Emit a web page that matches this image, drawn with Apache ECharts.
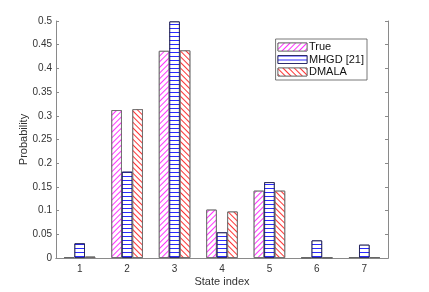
<!DOCTYPE html>
<html>
<head>
<meta charset="utf-8">
<script src="https://cdn.jsdelivr.net/npm/echarts@6/dist/echarts.min.js"></script>
<style>html,body{margin:0;padding:0;background:#fff}#c{width:429px;height:292px}</style>
</head>
<body>
<div id="c"></div>
<script>
const categories = ['1','2','3','4','5','6','7'];
const trueVals  = [0.002, 0.312, 0.437, 0.102, 0.142, 0.001, 0.002];
const mhgdVals  = [0.031, 0.182, 0.499, 0.054, 0.160, 0.037, 0.028];
const dmalaVals = [0.003, 0.314, 0.438, 0.098, 0.142, 0.001, 0.002];
const seriesNames = ['True', 'MHGD [21]', 'DMALA'];
const yTicks = [0, 0.05, 0.1, 0.15, 0.2, 0.25, 0.3, 0.35, 0.4, 0.45, 0.5];

function decal(color, rot, on, off) {
  return { symbol: 'rect', symbolSize: 1, color: color, backgroundColor: '#fff',
           dashArrayX: [1, 0], dashArrayY: [on, off], rotation: rot };
}

const axisColor = '#8a8a8a';
const labelColor = '#333';
const font = 'Liberation Sans';

const chart = echarts.init(document.getElementById('c'), null, { renderer: 'canvas' });
const barCommon = { type: 'bar', barWidth: 10.5, barGap: '0%', animation: false };
chart.setOption({
  backgroundColor: '#fff',
  textStyle: { fontFamily: font },
  grid: { left: 56, right: 41, top: 21, bottom: 32, containLabel: false },
  legend: {
    data: seriesNames,
    orient: 'vertical',
    right: 62, top: 39,
    icon: 'rect',
    itemWidth: 29, itemHeight: 8, itemGap: 1.5,
    padding: [2.5, 3, 2.5, 2],
    borderColor: '#555', borderWidth: 0.8,
    borderRadius: 0,
    backgroundColor: '#fff',
    itemStyle: { borderWidth: 0.8 },
    textStyle: { fontSize: 11, color: '#111', fontFamily: font, padding: [0, 0, 0, -3] }
  },
  xAxis: [{
    type: 'category', data: categories, position: 'bottom',
    name: 'State index', nameLocation: 'middle', nameGap: 18, nameMoveOverlap: false,
    nameTextStyle: { fontSize: 11, color: labelColor, fontFamily: font },
    axisLine: { lineStyle: { color: axisColor, width: 1 } },
    axisTick: { inside: true, length: 3, alignWithLabel: true, lineStyle: { color: axisColor } },
    axisLabel: { fontSize: 10, color: labelColor, margin: 6, fontFamily: font }
  }, {
    type: 'category', data: categories, position: 'top',
    axisLine: { lineStyle: { color: axisColor, width: 1 } },
    axisTick: { inside: true, length: 3, alignWithLabel: true, lineStyle: { color: axisColor } },
    axisLabel: { show: false }
  }],
  yAxis: [{
    type: 'value', min: 0, max: 0.5, interval: 0.05, position: 'left',
    name: 'Probability', nameLocation: 'middle', nameGap: 27, nameMoveOverlap: false,
    nameTextStyle: { fontSize: 11, color: labelColor, fontFamily: font },
    axisLine: { show: true, lineStyle: { color: axisColor, width: 1 } },
    axisTick: { show: true, inside: true, length: 3, lineStyle: { color: axisColor } },
    splitLine: { show: false },
    axisLabel: { fontSize: 10, color: labelColor, margin: 4, fontFamily: font,
      formatter: v => { const t = yTicks.find(x => Math.abs(x - v) < 1e-9); return String(+(t !== undefined ? t : v).toFixed(2)); } }
  }, {
    type: 'value', min: 0, max: 0.5, interval: 0.05, position: 'right',
    axisLine: { show: true, lineStyle: { color: axisColor, width: 1 } },
    axisTick: { show: true, inside: true, length: 3, lineStyle: { color: axisColor } },
    splitLine: { show: false },
    axisLabel: { show: false }
  }],
  series: [
    Object.assign({}, barCommon, { name: seriesNames[0], data: trueVals,
      itemStyle: { color: '#fff', borderColor: '#666', borderWidth: 0.9, decal: decal('#ff33ff', -Math.PI / 4, 0.7, 2.2) } }),
    Object.assign({}, barCommon, { name: seriesNames[1], data: mhgdVals,
      itemStyle: { color: '#fff', borderColor: '#1c1c55', borderWidth: 0.9, decal: decal('#2a2aff', 0, 0.8, 2.2) } }),
    Object.assign({}, barCommon, { name: seriesNames[2], data: dmalaVals,
      itemStyle: { color: '#fff', borderColor: '#666', borderWidth: 0.9, decal: decal('#ff3333', Math.PI / 4, 0.7, 2.2) } })
  ]
});
</script>
</body>
</html>
